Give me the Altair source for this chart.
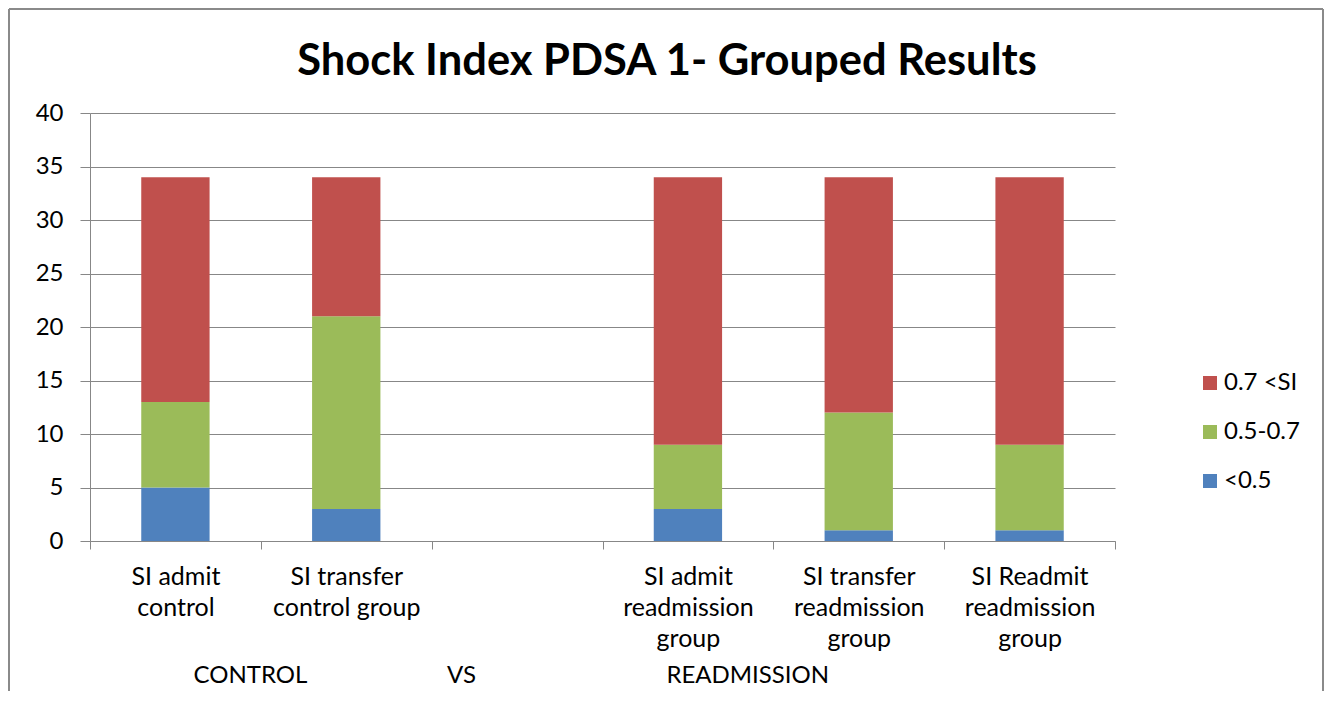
import altair as alt
import pandas as pd

# ---- data ----
categories = [
    "SI admit|control",
    "SI transfer|control group",
    " ",
    "SI admit|readmission|group",
    "SI transfer|readmission|group",
    "SI Readmit|readmission|group",
]
series_names = ["<0.5", "0.5-0.7", "0.7 <SI"]
low_vals = [5, 3, None, 3, 1, 1]       # <0.5
mid_vals = [8, 18, None, 6, 11, 8]     # 0.5-0.7
high_vals = [21, 13, None, 25, 22, 25]  # 0.7 <SI
legend_order = ["0.7 <SI", "0.5-0.7", "<0.5"]
legend_colors = ["#C0504D", "#9BBB59", "#4F81BD"]
y_ticks = [0, 5, 10, 15, 20, 25, 30, 35, 40]
chart_title = ["Shock Index PDSA 1- Grouped Results"]

rows = []
for i, cat in enumerate(categories):
    for k, (s, vals) in enumerate(zip(series_names, [low_vals, mid_vals, high_vals])):
        v = vals[i]
        if v is not None:
            rows.append({"category": cat, "series": s, "value": v, "ord": k})
df = pd.DataFrame(rows)

FONT = "Lato"
GRAY = "#878787"
NB = "\u00a0"
x_title = "CONTROL" + NB * 23 + "VS" + NB * 31 + "READMISSION"

bars = alt.Chart(df).mark_bar(width=alt.RelativeBandSize(0.4)).encode(
    x=alt.X(
        "category:N",
        scale=alt.Scale(domain=categories, paddingInner=0, paddingOuter=0),
        axis=alt.Axis(
            title=x_title,
            labelExpr="split(datum.label, '|')",
            labelAngle=0,
            labelFont=FONT,
            labelFontSize=25,
            labelLineHeight=31,
            labelPadding=15,
            labelColor="black",
            labelLimit=400,
            labelOverlap=False,
            tickBand="extent",
            tickSize=8,
            tickColor=GRAY,
            domainColor=GRAY,
            grid=False,
            titleFont=FONT,
            titleFontSize=24,
            titleFontWeight="normal",
            titleColor="black",
            titleAnchor="start",
            titleAlign="left",
            titleBaseline="middle",
            titleX=103,
            titleY=134,
        ),
    ),
    y=alt.Y(
        "value:Q",
        stack="zero",
        scale=alt.Scale(domain=[0, 40], nice=False),
        axis=alt.Axis(
            values=y_ticks,
            title=None,
            labelFont=FONT,
            labelFontSize=24,
            labelPadding=17,
            labelColor="black",
            tickSize=10,
            tickColor=GRAY,
            domainColor=GRAY,
            gridColor=GRAY,
        ),
    ),
    color=alt.Color(
        "series:N",
        scale=alt.Scale(domain=legend_order, range=legend_colors),
        legend=alt.Legend(
            title=None,
            orient="none",
            legendX=1108,
            legendY=258,
            symbolType="square",
            symbolSize=196,
            symbolStrokeWidth=0,
            symbolOpacity=1,
            labelFont=FONT,
            labelFontSize=24,
            labelColor="black",
            labelOffset=2,
            rowPadding=25,
        ),
    ),
    order=alt.Order("ord:Q"),
)

title_df = pd.DataFrame({"t": chart_title})
title_mark = alt.Chart(title_df).mark_text(
    font=FONT, fontSize=43.5, fontWeight="bold", color="black",
    align="center", baseline="alphabetic",
).encode(text="t:N", x=alt.value(577), y=alt.value(-38))

frame_df = pd.DataFrame({"a": [0]})
frame_top = alt.Chart(frame_df).mark_rule(color="#8a8a8a", strokeWidth=2).encode(
    x=alt.value(-81), x2=alt.value(1233), y=alt.value(-104)
)
frame_left = alt.Chart(frame_df).mark_rule(color="#8a8a8a", strokeWidth=2).encode(
    x=alt.value(-81), y=alt.value(-104), y2=alt.value(580)
)
frame_right = alt.Chart(frame_df).mark_rule(color="#8a8a8a", strokeWidth=2).encode(
    x=alt.value(1233), y=alt.value(-104), y2=alt.value(580)
)

chart = alt.layer(bars, title_mark, frame_top, frame_left, frame_right).properties(
    width=1025,
    height=428,
    autosize=alt.AutoSizeParams(type="none"),
    padding={"left": 82, "top": 105, "right": 210, "bottom": 150},
    background="white",
).configure_view(stroke=None)

chart.save("out.html", embed_options={"renderer": "svg", "actions": False})
